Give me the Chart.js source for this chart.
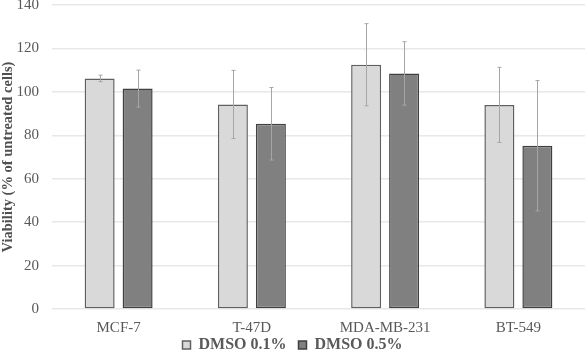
<!DOCTYPE html>
<html>
<head>
<meta charset="utf-8">
<script src="https://cdn.jsdelivr.net/npm/chart.js@4"></script>
<style>
  body { margin: 0; background: #fff; }
  #wrap { width: 587px; height: 356px; }
</style>
</head>
<body>
<div id="wrap"><canvas id="cvs" width="587" height="356"></canvas></div>
<script>
// cell lines
const cellLines = ['MCF-7', 'T-47D', 'MDA-MB-231', 'BT-549']
// viability (% of untreated cells)
const dmso01 = [106.2, 94.2, 112.5, 94.0]
const dmso05 = [101.5, 85.3, 108.5, 75.2]
// error bar half-lengths
const dmso01Err = [1.5, 15.7, 18.9, 17.3]
const dmso05Err = [8.5, 16.7, 14.6, 30.0]
const yTicks = [0, 20, 40, 60, 80, 100, 120, 140]

const errors = [dmso01Err, dmso05Err]

// draw the error bars through the y scale
const errorBars = {
    id: 'errorBars',
    afterDatasetsDraw(chart) {
        const ctx = chart.ctx
        const y = chart.scales.y
        ctx.save()
        ctx.strokeStyle = '#a6a6a6'
        ctx.lineWidth = 1
        chart.data.datasets.forEach((ds, i) => {
            const meta = chart.getDatasetMeta(i)
            meta.data.forEach((bar, j) => {
                const v = ds.data[j]
                const e = errors[i][j]
                const top = y.getPixelForValue(v + e)
                const bottom = y.getPixelForValue(v - e)
                const x = Math.round(bar.x) + 0.5
                ctx.beginPath()
                ctx.moveTo(x, top)
                ctx.lineTo(x, bottom)
                ctx.moveTo(x - 2, top)
                ctx.lineTo(x + 2, top)
                ctx.moveTo(x - 2, bottom)
                ctx.lineTo(x + 2, bottom)
                ctx.stroke()
            })
        })
        ctx.restore()
    }
}

// pull the legend up closer to the category labels
const legendUp = {
    id: 'legendUp',
    afterLayout(chart) {
        chart.legend.top -= 11
    }
}

const cvs = document.getElementById('cvs').getContext('2d')
new Chart(cvs, {
    type: 'bar',
    data: {
        labels: cellLines,
        datasets: [
            {
                label: 'DMSO 0.1%',
                data: dmso01,
                backgroundColor: '#d9d9d9',
                borderColor: '#606060',
                borderWidth: 1.5,
                borderSkipped: false,
                barPercentage: 0.79,
                categoryPercentage: 0.57
            },
            {
                label: 'DMSO 0.5%',
                data: dmso05,
                backgroundColor: '#808080',
                borderColor: '#404040',
                borderWidth: 1.5,
                borderSkipped: false,
                barPercentage: 0.79,
                categoryPercentage: 0.57
            }
        ]
    },
    options: {
        responsive: false,
        animation: false,
        devicePixelRatio: 1,
        layout: { padding: { top: 0, right: 2, bottom: 0, left: 0 } },
        plugins: {
            tooltip: { enabled: false },
            legend: {
                position: 'bottom',
                maxHeight: 20,
                labels: {
                    boxWidth: 8,
                    boxHeight: 8,
                    padding: 12,
                    color: '#595959',
                    font: { family: 'Liberation Serif', size: 16, weight: 'bold', lineHeight: 1 }
                }
            }
        },
        scales: {
            x: {
                afterFit(scale) {
                    scale.height = 27
                },
                grid: { display: false, drawTicks: false },
                border: { display: false },
                ticks: {
                    color: '#595959',
                    padding: 12,
                    font: { family: 'Liberation Serif', size: 15, lineHeight: 1 }
                }
            },
            y: {
                min: 0,
                max: 140,
                afterBuildTicks(scale) {
                    scale.ticks = yTicks.map(v => ({ value: v }))
                },
                afterFit(scale) {
                    scale.width = 52
                    scale.paddingTop = 5
                    scale.paddingBottom = 0
                },
                grid: { color: '#e8e8e8', lineWidth: 1.5, drawTicks: false },
                border: { display: false },
                ticks: {
                    color: '#595959',
                    padding: 13,
                    font: { family: 'Liberation Serif', size: 15, lineHeight: 0.7 }
                },
                title: {
                    display: true,
                    text: 'Viability (% of untreated cells)',
                    color: '#505050',
                    padding: 0,
                    font: { family: 'Liberation Serif', size: 14.5, weight: 'bold' }
                }
            }
        }
    },
    plugins: [errorBars, legendUp]
})
</script>
</body>
</html>
